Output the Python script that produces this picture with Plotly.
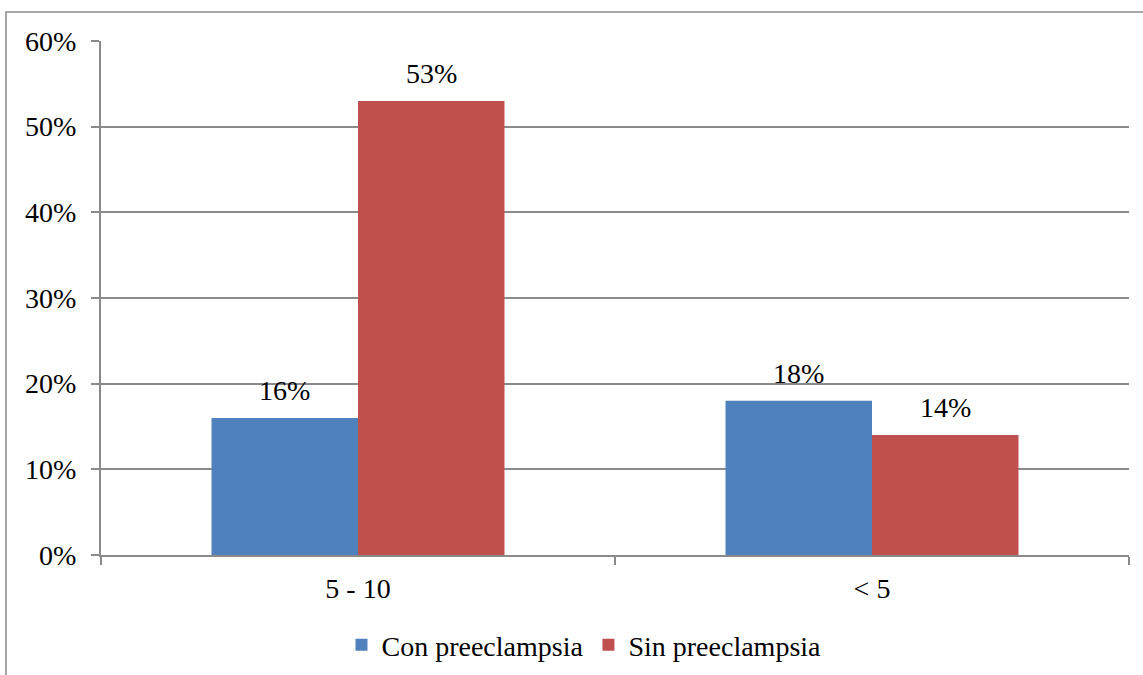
import plotly.graph_objects as go

categories = ["5 - 10", "< 5"]
con_preeclampsia = [0.16, 0.18]
sin_preeclampsia = [0.53, 0.14]
series_names = ["Con preeclampsia", "Sin preeclampsia"]
y_ticks = [0, 0.1, 0.2, 0.3, 0.4, 0.5, 0.6]
y_tick_labels = ["0%", "10%", "20%", "30%", "40%", "50%", "60%"]

W, H = 1143, 675
L, R, T, B = 101, 14, 41, 120
FONT = "Liberation Serif"
FS = 28
GRID = "#8a8a8a"

fig = go.Figure()
fig.add_trace(go.Bar(name=series_names[0], x=categories, y=con_preeclampsia,
                     marker=dict(color="#4F81BD", line=dict(width=0))))
fig.add_trace(go.Bar(name=series_names[1], x=categories, y=sin_preeclampsia,
                     marker=dict(color="#C0504D", line=dict(width=0))))

# value labels above each bar
plot_w = W - L - R
plot_h = H - T - B
bar_px = plot_w / len(categories) * 0.57 / 2
for vals, sign in ((con_preeclampsia, -1), (sin_preeclampsia, 1)):
    for c, v in zip(categories, vals):
        fig.add_annotation(x=c, y=v, text=f"{round(v * 100)}%", showarrow=False,
                           xshift=sign * bar_px / 2, yshift=10, yanchor="bottom",
                           font=dict(family=FONT, size=FS, color="#000"))

# outer chart border (left and top edges visible)
fig.add_shape(type="rect", xref="paper", yref="paper",
              x0=(6 - L) / plot_w, x1=(W + 20 - L) / plot_w,
              y0=-(H + 20 - (H - B)) / plot_h, y1=(H - B - 12) / plot_h,
              line=dict(color=GRID, width=1.5), layer="below")

fig.update_layout(
    width=W, height=H,
    margin=dict(l=L, r=R, t=T, b=B, autoexpand=False),
    paper_bgcolor="white", plot_bgcolor="white",
    barmode="group", bargap=0.43, bargroupgap=0,
    font=dict(family=FONT, size=FS, color="#000"),
    showlegend=True,
    legend=dict(orientation="h", xref="container", yref="container",
                x=584 / W, xanchor="center",
                y=1 - 645 / H, yanchor="middle",
                font=dict(family=FONT, size=FS), itemwidth=30,
                traceorder="normal"),
    xaxis=dict(showline=True, linecolor=GRID, linewidth=2,
               ticks="outside", tickson="boundaries", ticklen=8, tickwidth=2,
               tickcolor=GRID, showgrid=False, ticklabelstandoff=7),
    yaxis=dict(range=[0, 0.6], tickvals=y_ticks, ticktext=y_tick_labels,
               showline=True, linecolor=GRID, linewidth=2,
               ticks="outside", ticklen=8, tickwidth=2, tickcolor=GRID,
               showgrid=True, gridcolor=GRID, gridwidth=2, zeroline=False,
               ticklabelstandoff=9),
)

fig.write_html("out.html")
